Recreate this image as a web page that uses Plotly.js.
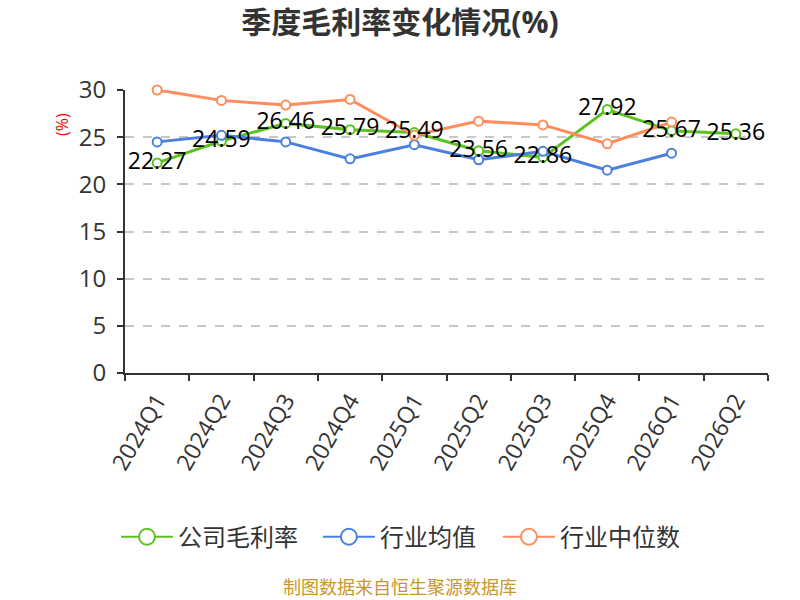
<!DOCTYPE html>
<html>
<head>
<meta charset="utf-8">
<script src="https://cdn.plot.ly/plotly-3.0.1.min.js"></script>
<style>
  html, body { margin: 0; padding: 0; background: #fff; }
  #plot { width: 800px; height: 600px; }
</style>
</head>
<body>
<div id="plot"></div>
<script>
const quarters = ['2024Q1', '2024Q2', '2024Q3', '2024Q4', '2025Q1', '2025Q2', '2025Q3', '2025Q4', '2026Q1', '2026Q2'];
const companyMargin = [22.27, 24.59, 26.46, 25.79, 25.49, 23.56, 22.86, 27.92, 25.67, 25.36];
const industryMean = [24.5, 25.2, 24.5, 22.7, 24.2, 22.6, 23.5, 21.5, 23.3, null];
const industryMedian = [30.0, 28.9, 28.4, 29.0, 25.2, 26.7, 26.3, 24.3, 26.6, null];
const seriesNames = ['公司毛利率', '行业均值', '行业中位数'];
const seriesColors = ['#5bc21f', '#4a80e0', '#ff8c5a'];
const yTicks = [0, 5, 10, 15, 20, 25, 30];

const FONT = '"Open Sans", "Noto Sans CJK SC", sans-serif';

function lineTrace(i, y) {
  const color = seriesColors[i];
  return {
    type: 'scatter', mode: 'lines+markers', name: seriesNames[i],
    x: quarters, y, showlegend: false, cliponaxis: false,
    line: { color, width: 3 },
    marker: { symbol: 'circle', size: 9, color: '#fff', line: { color, width: 2 } },
    hoverinfo: 'x+y+name'
  };
}

// legend-only entries, so the legend symbol can be bigger than the chart markers
function legendTrace(i, legendId) {
  const color = seriesColors[i];
  return {
    type: 'scatter', mode: 'lines+markers', name: seriesNames[i],
    x: [null], y: [null], legend: legendId,
    line: { color, width: 2 },
    marker: { symbol: 'circle', size: 16, color: '#fff', line: { color, width: 2 } },
    hoverinfo: 'skip'
  };
}

const data = [
  lineTrace(0, companyMargin),
  lineTrace(1, industryMean),
  lineTrace(2, industryMedian),
  {
    // labels for the company series, drawn on top
    type: 'scatter', mode: 'text', x: quarters, y: companyMargin,
    text: companyMargin.map(v => v.toFixed(2)),
    textposition: 'middle center', cliponaxis: false,
    textfont: { size: 23, color: '#000', family: FONT },
    showlegend: false, hoverinfo: 'skip'
  },
  legendTrace(0, 'legend'),
  legendTrace(1, 'legend2'),
  legendTrace(2, 'legend3')
];

// one legend box per series so each entry sits where the reference puts it
function legendAt(x) {
  return {
    orientation: 'h', x, xanchor: 'left', y: -0.58, yanchor: 'middle',
    font: { size: 24, color: '#333', family: FONT }, itemwidth: 52,
    bgcolor: 'rgba(0,0,0,0)'
  };
}

const layout = {
  width: 800, height: 600,
  paper_bgcolor: '#fff', plot_bgcolor: '#fff',
  font: { family: FONT, color: '#333' },
  margin: { l: 125, r: 32, t: 90, b: 227 },
  title: {
    text: '<b>季度毛利率变化情况(%)</b>',
    font: { size: 30, color: '#333', family: FONT },
    x: 0.5, xanchor: 'center', y: 0.963, yanchor: 'middle'
  },
  xaxis: {
    type: 'category', tickson: 'boundaries',
    showline: true, linecolor: '#333', linewidth: 2,
    ticks: 'outside', ticklen: 6, tickcolor: '#333', tickwidth: 2,
    tickangle: -60, tickfont: { size: 23, color: '#333' }, ticklabelstandoff: 3,
    showgrid: false, range: [-0.5, 9.5]
  },
  yaxis: {
    range: [0, 30], tickvals: yTicks,
    showline: true, linecolor: '#333', linewidth: 2,
    ticks: 'outside', ticklen: 6, tickcolor: '#333', tickwidth: 2,
    tickfont: { size: 24, color: '#333' }, ticklabelstandoff: 6,
    showgrid: true, gridcolor: '#c8c8c8', griddash: 'dash', gridwidth: 1.5,
    zeroline: false
  },
  legend: legendAt(-0.014),
  legend2: legendAt(0.300),
  legend3: legendAt(0.580),
  annotations: [
    {
      text: '(%)', textangle: -90, xref: 'paper', yref: 'paper',
      x: -0.098, y: 0.88, xanchor: 'center', yanchor: 'middle',
      showarrow: false, font: { size: 16, color: '#ff0000' }
    },
    {
      text: '制图数据来自恒生聚源数据库', xref: 'paper', yref: 'paper',
      x: 0.428, y: -0.756, xanchor: 'center', yanchor: 'middle',
      showarrow: false, font: { size: 18, color: '#c9962a' }
    }
  ]
};

Plotly.newPlot('plot', data, layout, { displayModeBar: false });
</script>
</body>
</html>
